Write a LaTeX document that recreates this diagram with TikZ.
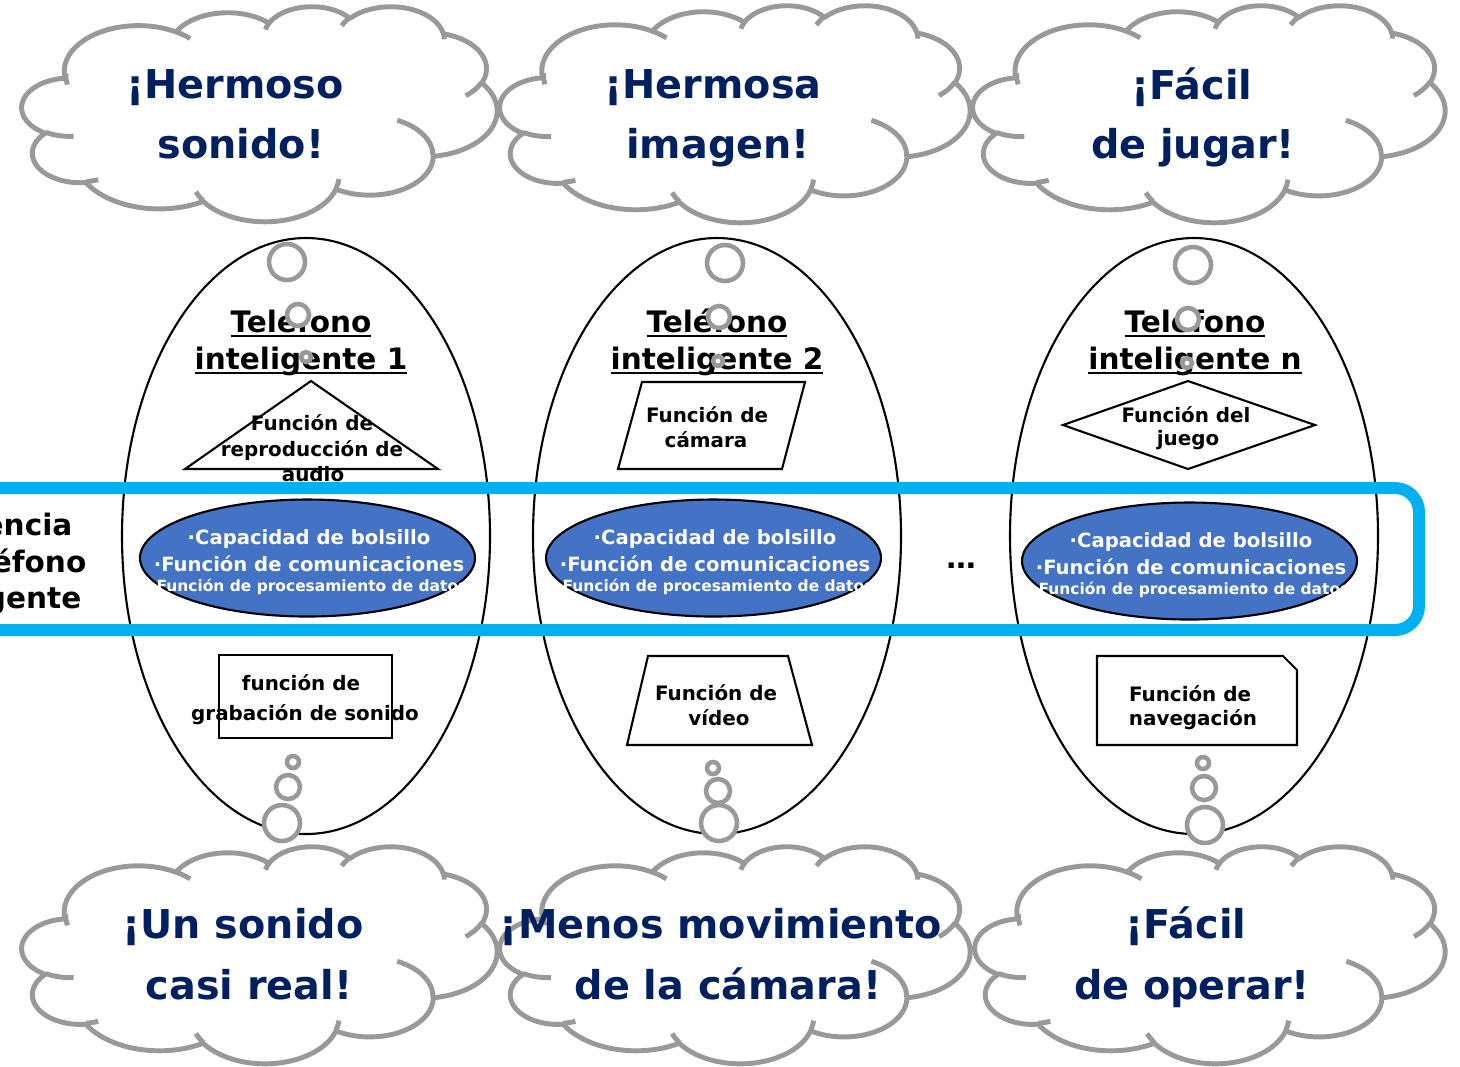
\documentclass[tikz,border=0pt]{standalone}
\usepackage{fontspec}
\setmainfont{DejaVu Sans}
\usepackage{xcolor}
\usepackage{tikz}
\usetikzlibrary{shapes.geometric, positioning}
\definecolor{navytext}{RGB}{0,32,96}
\definecolor{bubblegray}{RGB}{153,153,153}
\definecolor{corefill}{RGB}{68,114,196}
\definecolor{corecyan}{RGB}{0,176,240}
\newsavebox{\titlebox}
\newcommand{\titleline}[1]{\sbox{\titlebox}{#1}\rlap{\rule[-1.5pt]{\wd\titlebox}{0.55pt}}\usebox{\titlebox}}

\begin{document}
\begin{tikzpicture}[
  x=0.1mm, y=-0.1mm,
  cloudline/.style={draw=bubblegray, line width=1.4pt, line join=round},
  carc/.style n args={4}{insert path={arc[start angle={atan2(#1*sin(#3),#2*cos(#3))},
      end angle={atan2(#1*sin(#3),#2*cos(#3))+mod(atan2(#1*sin(#3+#4),#2*cos(#3+#4))-atan2(#1*sin(#3),#2*cos(#3))+720,360)},
      x radius=#1, y radius=#2]}},
  wish/.style={anchor=base, inner sep=0pt, text=navytext, font=\bfseries\fontsize{11.3}{13}\selectfont},
  phone/.style={ellipse, draw=black, line width=0.6pt, inner sep=0pt,
                minimum width=36.8mm, minimum height=59.6mm},
  title/.style={anchor=base, inner sep=0pt, font=\bfseries\fontsize{8.4}{10}\selectfont},
  func/.style={anchor=base, inner sep=0pt, font=\bfseries\fontsize{5.66}{7}\selectfont},
  funcbox/.style={draw=black, line width=0.6pt},
  core/.style={ellipse, draw=black, fill=corefill, line width=0.6pt, inner sep=0pt,
               minimum width=33.5mm, minimum height=11.7mm},
  coretext/.style={anchor=base, inner sep=0pt, text=white, font=\bfseries\fontsize{#1}{#1}\selectfont},
  thought/.style={circle, draw=bubblegray, fill=white, line width=1.3pt, inner sep=0pt, minimum size=#1},
]
\useasboundingbox (0,0) rectangle (1460,1066);

% Clouds (outline on a 432 x 432 grid)
\foreach \cx/\cy/\cw/\ch in {22/6/475/215, 500/5/470/217, 973/5/472/217,
                             22/846/475/217, 500/846/470/217, 975/846/470/217} {
  \begin{scope}[shift={(\cx,\cy)}, xscale=\cw/432, yscale=\ch/432]
    \draw[cloudline, fill=white] (39,143.7)
      [carc={67.53}{91.90}{-190.4875}{123.7805}]
      [carc={53.33}{72.67}{-144.1024}{89.9452}]
      [carc={43.65}{59.45}{-145.8079}{99.7230}]
      [carc={48.57}{65.95}{-130.9861}{117.2417}]
      [carc={53.33}{72.73}{-78.7089}{109.0269}]
      [carc={67.75}{92.20}{-46.2673}{130.2690}]
      [carc={57.85}{78.67}{0.6250}{114.0333}]
      [carc={67.52}{92.15}{22.4516}{115.1726}]
      [carc={77.20}{105.43}{66.2426}{75.7110}]
      [carc={43.60}{59.18}{-274.9421}{146.7356}]
      [carc={43.45}{59.45}{-246.8285}{152.5189}] -- cycle;
    \draw[cloudline]
      (46.93,261.77) [carc={43.45}{59.45}{86.7420}{26.4295}]
      (69.28,348.99) [carc={43.60}{59.18}{73.6105}{11.4475}]
      (164.78,390.90) [carc={67.52}{92.15}{137.6242}{14.0811}]
      (288.27,347.51) [carc={67.52}{92.15}{6.4533}{15.9984}]
      (341.29,229.54) [carc={57.85}{78.67}{-70.2924}{70.9174}]
      (417.98,153.54) [carc={53.33}{72.73}{30.3180}{27.7515}]
      (383.24,54.26) [carc={48.57}{65.95}{-13.7443}{14.8589}]
      (290.78,39.52) [carc={48.57}{65.95}{-149.1815}{18.1954}]
      (221.41,47.20) [carc={43.65}{59.45}{-163.4943}{17.6864}]
      (140.00,51.92) [carc={67.53}{91.90}{-66.7070}{12.3194}]
      (41.27,157.89) [carc={67.53}{91.90}{163.7335}{18.7768}];
  \end{scope}
}

% Wishes
\foreach \n/\x/\y/\t in {wishA1/235/98/{¡Hermoso}, wishA2/241/158/{sonido!},
                         wishB1/713/98/{¡Hermosa}, wishB2/718/158/{imagen!},
                         wishC1/1192/99/{¡Fácil}, wishC2/1193/158/{de jugar!},
                         wishD1/243/938/{¡Un sonido}, wishD2/249/999/{casi real!},
                         wishE1/721/938/{¡Menos movimiento}, wishE2/728/999/{de la cámara!},
                         wishF1/1186/938/{¡Fácil}, wishF2/1192/999/{de operar!}}
  \node[wish] (\n) at (\x,\y) {\t};

% Smartphones
\foreach \n/\x in {phoneA/306, phoneB/717, phoneC/1194}
  \node[phone] (\n) at (\x,536) {};

% Functions
\draw[funcbox] (311,381) -- (438,469) -- (185,469) -- cycle;
\draw[funcbox] (642,382) -- (805,382) -- (782,469) -- (618,469) -- cycle;
\draw[funcbox] (1188,381) -- (1315,425) -- (1188,469) -- (1063,425) -- cycle;
\draw[funcbox] (219,655) rectangle (392,738);
\draw[funcbox] (648,656) -- (788,656) -- (812,745) -- (627,745) -- cycle;
\draw[funcbox] (1097,656) -- (1283,656) -- (1297,670) -- (1297,745) -- (1097,745) -- cycle;
\foreach \n/\x/\y/\t in {funcA1/312/430/{Función de}, funcA2/312/456/{reproducción de}, funcA3/313/481/{audio},
                         funcB1/707/422/{Función de}, funcB2/706/447/{cámara},
                         funcC1/1186/422/{Función del}, funcC2/1188/445/{juego},
                         funcD1/301/690/{función de}, funcD2/305/720/{grabación de sonido},
                         funcE1/716/700/{Función de}, funcE2/719/725/{vídeo},
                         funcF1/1190/701/{Función de}, funcF2/1193/725/{navegación}}
  \node[func] (\n) at (\x,\y) {\t};

% Titles
\foreach \n/\x/\t in {titleA/301/1, titleB/717/2, titleC/1195/n} {
  \node[title] (\n1) at (\x,332) {\titleline{Teléfono}};
  \node[title] (\n2) at (\x,369) {\titleline{inteligente \t}};
}

% Thought bubbles
\foreach \n/\x/\y/\d in {dotA1/287/262/3.6mm, dotA2/298/315/2.2mm, dotA3/306/357/1.0mm,
                         dotB1/725/263/3.6mm, dotB2/719/317/2.2mm, dotB3/718/361/1.0mm,
                         dotC1/1193/265/3.6mm, dotC2/1188/319/2.2mm, dotC3/1187/363/1.0mm,
                         dotD1/293/762/1.2mm, dotD2/288/787/2.4mm, dotD3/282/823/3.6mm,
                         dotE1/713/768/1.2mm, dotE2/718/791/2.4mm, dotE3/719/823/3.6mm,
                         dotF1/1203/763/1.2mm, dotF2/1204/788/2.4mm, dotF3/1205/825/3.6mm}
  \node[thought=\d] (\n) at (\x,\y) {};

% Common core
\foreach \n/\x/\y in {coreA/307.5/558, coreB/713.5/558, coreC/1189.5/561} {
  \node[core] (\n) at (\x,\y) {};
  \node[coretext=5.58] (\n1) at (\x+1.5,\y-14) {·Capacidad de bolsillo};
  \node[coretext=5.58] (\n2) at (\x+1.5,\y+13) {·Función de comunicaciones};
  \node[coretext=4.4] (\n3) at (\x+1.5,\y+33) {·Función de procesamiento de datos};
}
\draw[corecyan, line width=3.4pt, rounded corners=2.4mm] (-60,488) rectangle (1419,630);
\foreach \n/\x/\y/\t in {bandA/73/535/encia, bandB/87/572/éfono, bandC/82/608/gente}
  \node[title, anchor=base east] (\n) at (\x,\y) {\t};
\node[title] (more) at (961,568) {…};

\end{tikzpicture}
\end{document}
